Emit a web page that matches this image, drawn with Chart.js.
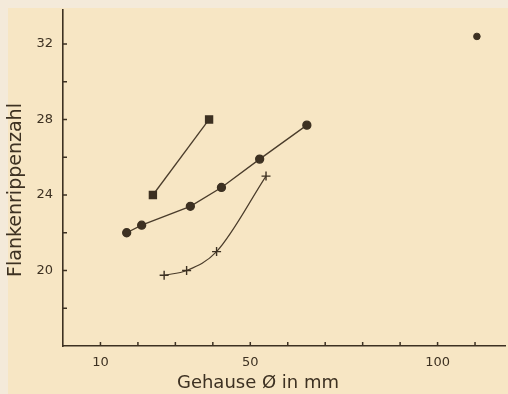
<!DOCTYPE html>
<html>
<head>
<meta charset="UTF-8">
<title>Flankenrippenzahl</title>
<script src="https://cdn.jsdelivr.net/npm/chart.js"></script>
<style>
    body { margin: 0; background: #f4e9d4; overflow: hidden; }
    #wrap {
        width: 508px; height: 394px;
        background: #f7e6c4;
        box-shadow: inset 8px 8px 0 #f4eada;
    }
    canvas { display: block; }
</style>
</head>
<body>
<div id="wrap"><canvas id="ripChart" width="508" height="394"></canvas></div>

<script>
    // Gehäusedurchmesser (mm) und Flankenrippenzahl je Baureihe
    const roundD = [17, 21, 34, 42.3, 52.5, 65.1];
    const roundN = [22, 22.4, 23.4, 24.4, 25.9, 27.7];
    const squareD = [24, 39];
    const squareN = [24, 28];
    const crossD = [27, 33, 41, 54.2];
    const crossN = [19.75, 20, 21, 25];
    const singleD = [110.5];
    const singleN = [32.4];

    // Achsenteilung
    const xLabels = [10, 50, 100];
    const xTickMarks = [10, 20, 30, 40, 50, 60, 70, 80, 90, 100, 110];
    const yLabels = [20, 24, 28, 32];
    const yTickMarks = [18, 20, 22, 24, 26, 28, 30, 32];

    const ink = '#3d3122';
    const lineInk = '#4a3c2b';
    const pts = (xs, ys) => xs.map((x, i) => ({ x: x, y: ys[i] }));

    // kleine Teilstriche nach innen + Achsentitel
    const axisDecor = {
        id: 'axisDecor',
        afterDraw(chart) {
            const ctx = chart.ctx, xs = chart.scales.x, ys = chart.scales.y;
            ctx.save();
            ctx.strokeStyle = ink;
            ctx.lineWidth = 1.5;
            ctx.beginPath();
            yTickMarks.forEach(v => {
                const py = ys.getPixelForValue(v);
                ctx.moveTo(xs.left, py);
                ctx.lineTo(xs.left + 4, py);
            });
            xTickMarks.forEach(v => {
                const px = xs.getPixelForValue(v);
                ctx.moveTo(px, ys.bottom);
                ctx.lineTo(px, ys.bottom - 4);
            });
            ctx.stroke();

            ctx.fillStyle = ink;
            ctx.font = '18px "DejaVu Sans"';
            ctx.textAlign = 'center';
            ctx.textBaseline = 'middle';
            ctx.fillText('Gehause Ø in mm', 258, 383);

            ctx.translate(16, 190);
            ctx.rotate(-Math.PI / 2);
            ctx.font = '19px "DejaVu Sans"';
            ctx.fillText('Flankenrippenzahl', 0, 0);
            ctx.restore();
        }
    };

    // feste Achsmaße ohne Zusatzabstände
    const fixBox = (w, h) => s => {
        if (w) s.width = w;
        if (h) s.height = h;
        s.paddingTop = 0; s.paddingBottom = 0;
        s.paddingLeft = 0; s.paddingRight = 0;
    };

    const ctx = document.getElementById('ripChart').getContext('2d');
    new Chart(ctx, {
        type: 'scatter',
        data: {
            datasets: [
                {
                    data: pts(squareD, squareN),
                    showLine: true,
                    borderColor: lineInk, borderWidth: 1.3,
                    pointStyle: 'rect', pointRadius: 5,
                    pointBackgroundColor: ink, pointBorderColor: ink
                },
                {
                    data: pts(roundD, roundN),
                    showLine: true,
                    borderColor: lineInk, borderWidth: 1.3,
                    pointStyle: 'circle', pointRadius: 4,
                    pointBackgroundColor: ink, pointBorderColor: ink
                },
                {
                    data: pts(crossD, crossN),
                    showLine: true, cubicInterpolationMode: 'monotone',
                    borderColor: lineInk, borderWidth: 1.2,
                    pointStyle: 'cross', pointRadius: 4.5, pointBorderWidth: 1.4,
                    pointBorderColor: ink
                },
                {
                    data: pts(singleD, singleN),
                    pointStyle: 'circle', pointRadius: 3.3,
                    pointBackgroundColor: ink, pointBorderColor: ink
                }
            ]
        },
        options: {
            responsive: false,
            animation: false,
            layout: { autoPadding: false, padding: { top: 10, right: 3, left: 0, bottom: 0 } },
            plugins: { legend: { display: false }, tooltip: { enabled: false } },
            scales: {
                x: {
                    type: 'linear', min: 0, max: 118,
                    afterFit: fixBox(0, 48),
                    grid: { display: false, drawTicks: false },
                    border: { display: true, color: ink, width: 1.6 },
                    ticks: {
                        stepSize: 10, padding: 9, color: ink, includeBounds: false,
                        font: { family: 'DejaVu Sans', size: 13 },
                        callback: v => xLabels.includes(v) ? String(v) : ''
                    }
                },
                y: {
                    min: 16, max: 33.8,
                    afterFit: fixBox(63, 0),
                    grid: { display: false, drawTicks: false },
                    border: { display: true, color: ink, width: 1.6 },
                    ticks: {
                        stepSize: 2, padding: 10, color: ink, includeBounds: false,
                        font: { family: 'DejaVu Sans', size: 13 },
                        callback: v => yLabels.includes(v) ? String(v) : ''
                    }
                }
            }
        },
        plugins: [axisDecor]
    });
</script>
</body>
</html>
